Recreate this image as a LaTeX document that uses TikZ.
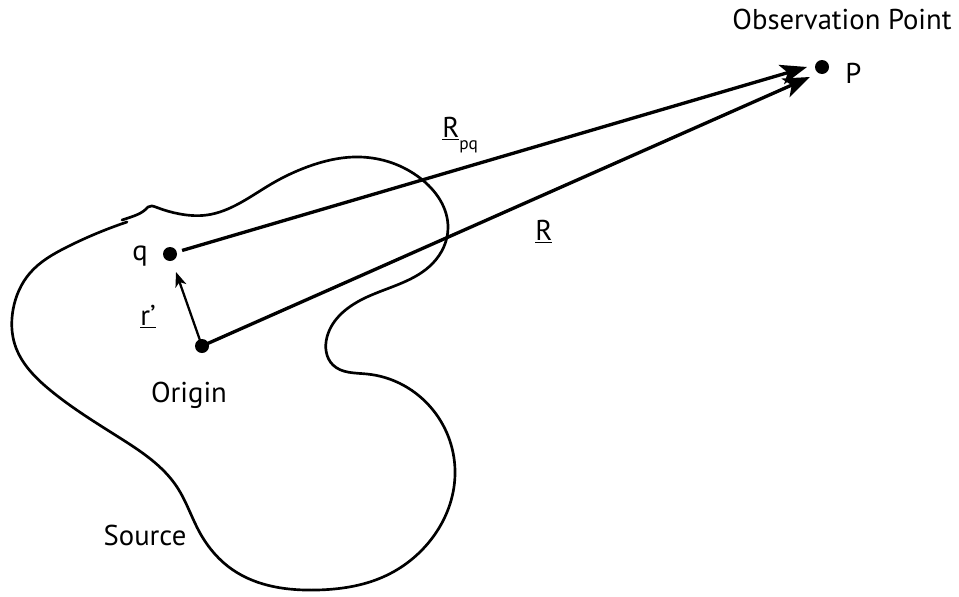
\documentclass[tikz,border=0pt]{standalone}
\usepackage{fontspec}
\setmainfont{PT Sans}
\usetikzlibrary{arrows.meta,hobby}
\begin{document}
\begin{tikzpicture}[x=0.75pt,y=-0.75pt,
  lab/.style={font=\fontsize{21.5}{25}\selectfont, inner sep=0pt},
  dot/.style={circle, fill=black, inner sep=0pt, minimum size=10.5pt},
  vec/.style={line width=2.5pt, -{Stealth[length=20pt,width=15pt,inset=5pt]}},
  small vec/.style={line width=1.7pt, -{Stealth[length=11pt,width=8.5pt,inset=3pt]}},
  blob/.style={line width=2pt, line cap=round}]
\useasboundingbox (0,0) rectangle (959,596);
% source outline
\draw[blob] (122,220) .. controls (134,216) and (142,214) .. (148,207)
  .. controls (150,205) and (153,206) .. (157,207.5);
\draw[blob, use Hobby shortcut] (157,207.5) .. (180,214) .. (207,215) .. (240,203)
 .. (273,183) .. (307,167) .. (360,157) .. (420,178) .. (448,228) .. (433,263)
 .. (367,297) .. (327,337) .. (333,365) .. (367,374) .. (433,410) .. (455,475)
 .. (433,537) .. (383,577) .. (317,590) .. (233,570) .. (200,533) .. (177,487)
 .. (120,438) .. (50,390) .. (15,345) .. (13,310) .. (30,273) .. (67,247) .. (127,222);
% points
\node[dot] (q) at (170,254) {};
\node[dot] (o) at (202,346) {};
\node[dot] (p) at (822,67) {};
\coordinate (t1) at (807,67);
\coordinate (t2) at (810,77);
\coordinate (t3) at (176,272);
% vectors
\draw[vec, shorten <=4pt] (q) -- (t1);
\draw[vec] (o.center) -- (t2);
\draw[small vec] (o.center) -- (t3);
% labels
\node[lab, anchor=base] (obs) at (842,29) {Observation Point};
\node[lab, anchor=base west] (pl) at (845,83) {P};
\node[lab, anchor=base west] (ql) at (132,260) {q};
\node[lab, anchor=base west] (rl) at (140,325) {\underline{r’}};
\node[lab, anchor=base] (ol) at (189,402) {Origin};
\node[lab, anchor=base] (sl) at (145,545) {Source};
\node[lab, anchor=base west] (rpq) at (442,137) {\underline{R}\raisebox{-9pt}{\fontsize{13}{15}\selectfont pq}};
\node[lab, anchor=base west] (rr) at (535,240) {\underline{R}};
\end{tikzpicture}
\end{document}
